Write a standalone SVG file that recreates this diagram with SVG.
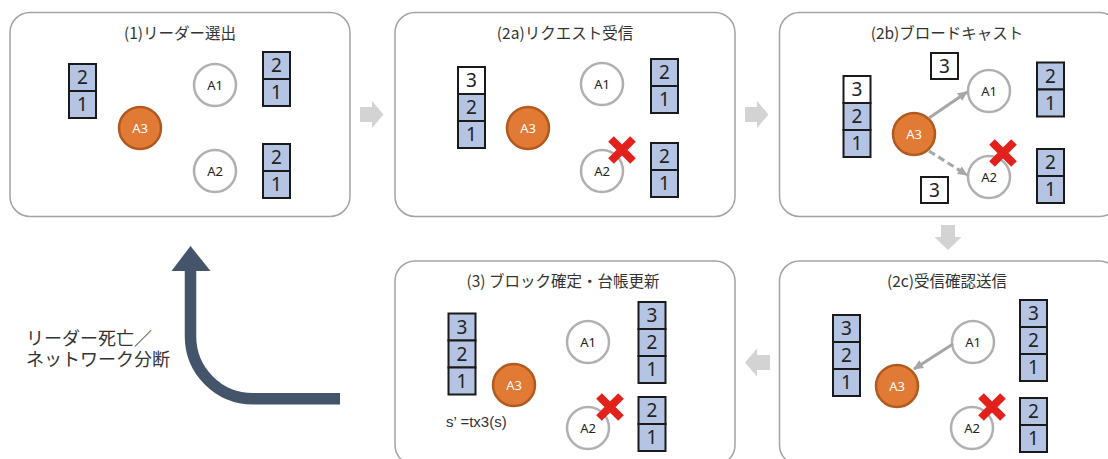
<svg xmlns="http://www.w3.org/2000/svg" width="1108" height="459" viewBox="0 0 1108 459">
<defs>
<style>
.panel{fill:#fff;stroke:#a3a3a3;stroke-width:1.5}
.title{font-family:"Noto Sans CJK JP","Noto Sans",sans-serif;font-size:15.5px;fill:#333;text-anchor:middle}
.cell{fill:#b4c4e2;stroke:#1a1a1a;stroke-width:2}
.cellw{fill:#fff;stroke:#1a1a1a;stroke-width:2}
.num{font-family:"Noto Sans",sans-serif;font-size:19px;fill:#222;text-anchor:middle}
.node{fill:#fff;stroke:#b0b0b0;stroke-width:2.5}
.leader{fill:#e07a35;stroke:#b1591f;stroke-width:2.5}
.lbl{font-family:"Noto Sans",sans-serif;font-size:13px;fill:#222;text-anchor:middle}
.lblw{font-family:"Noto Sans",sans-serif;font-size:13px;fill:#fff;text-anchor:middle}
.x{stroke:#e3211c;stroke-width:8;fill:none}
.step{fill:#d3d3d3}
.msg{stroke:#a6a6a6;stroke-width:3;fill:none}
.note{font-family:"Liberation Sans","Noto Sans CJK JP",sans-serif;font-size:18px;fill:#333}
</style>
<marker id="ah" viewBox="0 0 10 10" refX="9" refY="5" markerWidth="11" markerHeight="10" markerUnits="userSpaceOnUse" orient="auto">
<path d="M0,0.5 L10,5 L0,9.5 z" fill="#a6a6a6"/>
</marker>
<g id="xmark"><path class="x" d="M-11,-11 L11,11 M11,-11 L-11,11"/></g>
</defs>
<rect width="1108" height="459" fill="#fff"/>

<!-- Panel 1 -->
<g id="panel1">
<rect class="panel" x="10" y="12.5" width="340" height="204" rx="20"/>
<text class="title" x="180" y="39">(1)リーダー選出</text>
<g id="p1-a3-ledger"><rect class="cell" x="69" y="64" width="27" height="27"/><text class="num" x="82.5" y="84">2</text><rect class="cell" x="69" y="91" width="27" height="27"/><text class="num" x="82.5" y="111">1</text></g>
<g id="p1-a1-ledger"><rect class="cell" x="263" y="52" width="27" height="27"/><text class="num" x="276.5" y="72">2</text><rect class="cell" x="263" y="79" width="27" height="27"/><text class="num" x="276.5" y="99">1</text></g>
<g id="p1-a2-ledger"><rect class="cell" x="263" y="144" width="27" height="27"/><text class="num" x="276.5" y="164">2</text><rect class="cell" x="263" y="171" width="27" height="27"/><text class="num" x="276.5" y="191">1</text></g>
<g id="p1-a1"><circle class="node" cx="215" cy="85" r="21"/><text class="lbl" x="215" y="90">A1</text></g>
<g id="p1-a2"><circle class="node" cx="215" cy="171" r="21"/><text class="lbl" x="215" y="176">A2</text></g>
<g id="p1-a3"><circle class="leader" cx="140" cy="128" r="21"/><text class="lblw" x="140" y="133">A3</text></g>
</g>

<!-- Panel 2a -->
<g id="panel2a">
<rect class="panel" x="395" y="12.5" width="340" height="204" rx="20"/>
<text class="title" x="565" y="39">(2a)リクエスト受信</text>
<g id="p2a-a3-ledger"><rect class="cellw" x="458" y="67" width="27" height="27"/><text class="num" x="471.5" y="87">3</text><rect class="cell" x="458" y="94" width="27" height="27"/><text class="num" x="471.5" y="114">2</text><rect class="cell" x="458" y="121" width="27" height="27"/><text class="num" x="471.5" y="141">1</text></g>
<g id="p2a-a1-ledger"><rect class="cell" x="651" y="59" width="27" height="27"/><text class="num" x="664.5" y="79">2</text><rect class="cell" x="651" y="86" width="27" height="27"/><text class="num" x="664.5" y="106">1</text></g>
<g id="p2a-a2-ledger"><rect class="cell" x="651" y="143" width="27" height="27"/><text class="num" x="664.5" y="163">2</text><rect class="cell" x="651" y="170" width="27" height="27"/><text class="num" x="664.5" y="190">1</text></g>
<g id="p2a-a1"><circle class="node" cx="602" cy="84" r="21"/><text class="lbl" x="602" y="89">A1</text></g>
<g id="p2a-a2"><circle class="node" cx="602" cy="171" r="21"/><text class="lbl" x="602" y="176">A2</text><use href="#xmark" x="622" y="150"/></g>
<g id="p2a-a3"><circle class="leader" cx="528" cy="128" r="21"/><text class="lblw" x="528" y="133">A3</text></g>
</g>

<!-- Panel 2b -->
<g id="panel2b">
<rect class="panel" x="779.5" y="12.5" width="340" height="204" rx="20"/>
<text class="title" x="947" y="39">(2b)ブロードキャスト</text>
<g id="p2b-a3-ledger"><rect class="cellw" x="843.5" y="76" width="27" height="27"/><text class="num" x="857" y="96">3</text><rect class="cell" x="843.5" y="103" width="27" height="27"/><text class="num" x="857" y="123">2</text><rect class="cell" x="843.5" y="130" width="27" height="27"/><text class="num" x="857" y="150">1</text></g>
<g id="p2b-a1-ledger"><rect class="cell" x="1037" y="62.5" width="27" height="27"/><text class="num" x="1050.5" y="82.5">2</text><rect class="cell" x="1037" y="89.5" width="27" height="27"/><text class="num" x="1050.5" y="109.5">1</text></g>
<g id="p2b-a2-ledger"><rect class="cell" x="1037" y="149" width="27" height="27"/><text class="num" x="1050.5" y="169">2</text><rect class="cell" x="1037" y="176" width="27" height="27"/><text class="num" x="1050.5" y="196">1</text></g>
<g id="p2b-msg1"><rect class="cellw" x="931" y="53" width="27" height="26"/><text class="num" x="944.5" y="72.5">3</text></g>
<g id="p2b-msg2"><rect class="cellw" x="921" y="177" width="27" height="26"/><text class="num" x="934.5" y="196.5">3</text></g>
<g id="p2b-a1"><circle class="node" cx="989" cy="91" r="21"/><text class="lbl" x="989" y="96">A1</text></g>
<g id="p2b-a2"><circle class="node" cx="989" cy="177" r="21"/><text class="lbl" x="989" y="182">A2</text><use href="#xmark" x="1003" y="153"/></g>
<g id="p2b-a3"><circle class="leader" cx="914" cy="134" r="21"/><text class="lblw" x="914" y="139">A3</text></g>
</g>

<!-- Panel 3 -->
<g id="panel3">
<rect class="panel" x="395" y="261" width="340" height="204" rx="20"/>
<text class="title" x="563" y="287">(3) ブロック確定・台帳更新</text>
<g id="p3-a3-ledger"><rect class="cell" x="448.5" y="313.5" width="27" height="27"/><text class="num" x="462" y="333.5">3</text><rect class="cell" x="448.5" y="340.5" width="27" height="27"/><text class="num" x="462" y="360.5">2</text><rect class="cell" x="448.5" y="367.5" width="27" height="27"/><text class="num" x="462" y="387.5">1</text></g>
<g id="p3-a1-ledger"><rect class="cell" x="638.5" y="302" width="27" height="27"/><text class="num" x="652" y="322">3</text><rect class="cell" x="638.5" y="329" width="27" height="27"/><text class="num" x="652" y="349">2</text><rect class="cell" x="638.5" y="356" width="27" height="27"/><text class="num" x="652" y="376">1</text></g>
<g id="p3-a2-ledger"><rect class="cell" x="638.5" y="397" width="27" height="27"/><text class="num" x="652" y="417">2</text><rect class="cell" x="638.5" y="424" width="27" height="27"/><text class="num" x="652" y="444">1</text></g>
<g id="p3-a1"><circle class="node" cx="588" cy="342" r="21"/><text class="lbl" x="588" y="347">A1</text></g>
<g id="p3-a2"><circle class="node" cx="588" cy="428" r="21"/><text class="lbl" x="588" y="433">A2</text><use href="#xmark" x="610" y="407"/></g>
<g id="p3-a3"><circle class="leader" cx="514" cy="385" r="21"/><text class="lblw" x="514" y="390">A3</text></g>
<text x="446" y="427" font-family="Liberation Sans, sans-serif" font-size="15" fill="#333">s’ =tx3(s)</text>
</g>

<!-- Panel 2c -->
<g id="panel2c">
<rect class="panel" x="779.5" y="261" width="340" height="204" rx="20"/>
<text class="title" x="947" y="287">(2c)受信確認送信</text>
<g id="p2c-a3-ledger"><rect class="cell" x="833" y="315" width="27" height="27"/><text class="num" x="846.5" y="335">3</text><rect class="cell" x="833" y="342" width="27" height="27"/><text class="num" x="846.5" y="362">2</text><rect class="cell" x="833" y="369" width="27" height="27"/><text class="num" x="846.5" y="389">1</text></g>
<g id="p2c-a1-ledger"><rect class="cell" x="1020" y="300" width="27" height="27"/><text class="num" x="1033.5" y="320">3</text><rect class="cell" x="1020" y="327" width="27" height="27"/><text class="num" x="1033.5" y="347">2</text><rect class="cell" x="1020" y="354" width="27" height="27"/><text class="num" x="1033.5" y="374">1</text></g>
<g id="p2c-a2-ledger"><rect class="cell" x="1020" y="398" width="27" height="27"/><text class="num" x="1033.5" y="418">2</text><rect class="cell" x="1020" y="425" width="27" height="27"/><text class="num" x="1033.5" y="445">1</text></g>
<g id="p2c-a1"><circle class="node" cx="973" cy="342" r="21"/><text class="lbl" x="973" y="347">A1</text></g>
<g id="p2c-a2"><circle class="node" cx="972" cy="428" r="21"/><text class="lbl" x="972" y="433">A2</text><use href="#xmark" x="992" y="407"/></g>
<g id="p2c-a3"><circle class="leader" cx="897" cy="386" r="21"/><text class="lblw" x="897" y="391">A3</text></g>
</g>

<!-- Connectors -->
<g id="connectors">
<path class="step" d="M360,107 H372 V101 L383.5,114.5 L372,128 V122 H360 z"/>
<path class="step" d="M745,107 H757 V101 L768.5,114.5 L757,128 V122 H745 z"/>
<path class="step" d="M941,225 H955 V237 H961.5 L948,250 L934.5,237 H941 z"/>
<path class="step" d="M770,355 H757 V348.5 L745,362.5 L757,376.5 V370 H770 z"/>
<line class="msg" x1="929" y1="118" x2="967" y2="92" marker-end="url(#ah)"/>
<line class="msg" x1="929" y1="151" x2="967" y2="175" stroke-dasharray="7 4" marker-end="url(#ah)"/>
<line class="msg" x1="953" y1="344" x2="914" y2="369" marker-end="url(#ah)"/>
<path d="M340,398.8 H253 A62.5,62.5 0 0 1 190.5,336.3 V269" fill="none" stroke="#44546a" stroke-width="11.5"/>
<path d="M171.5,271 L210.5,271 L190.5,246 z" fill="#44546a"/>
</g>
<text class="note" x="26" y="345">リーダー死亡／</text>
<text class="note" x="26" y="366">ネットワーク分断</text>
</svg>
